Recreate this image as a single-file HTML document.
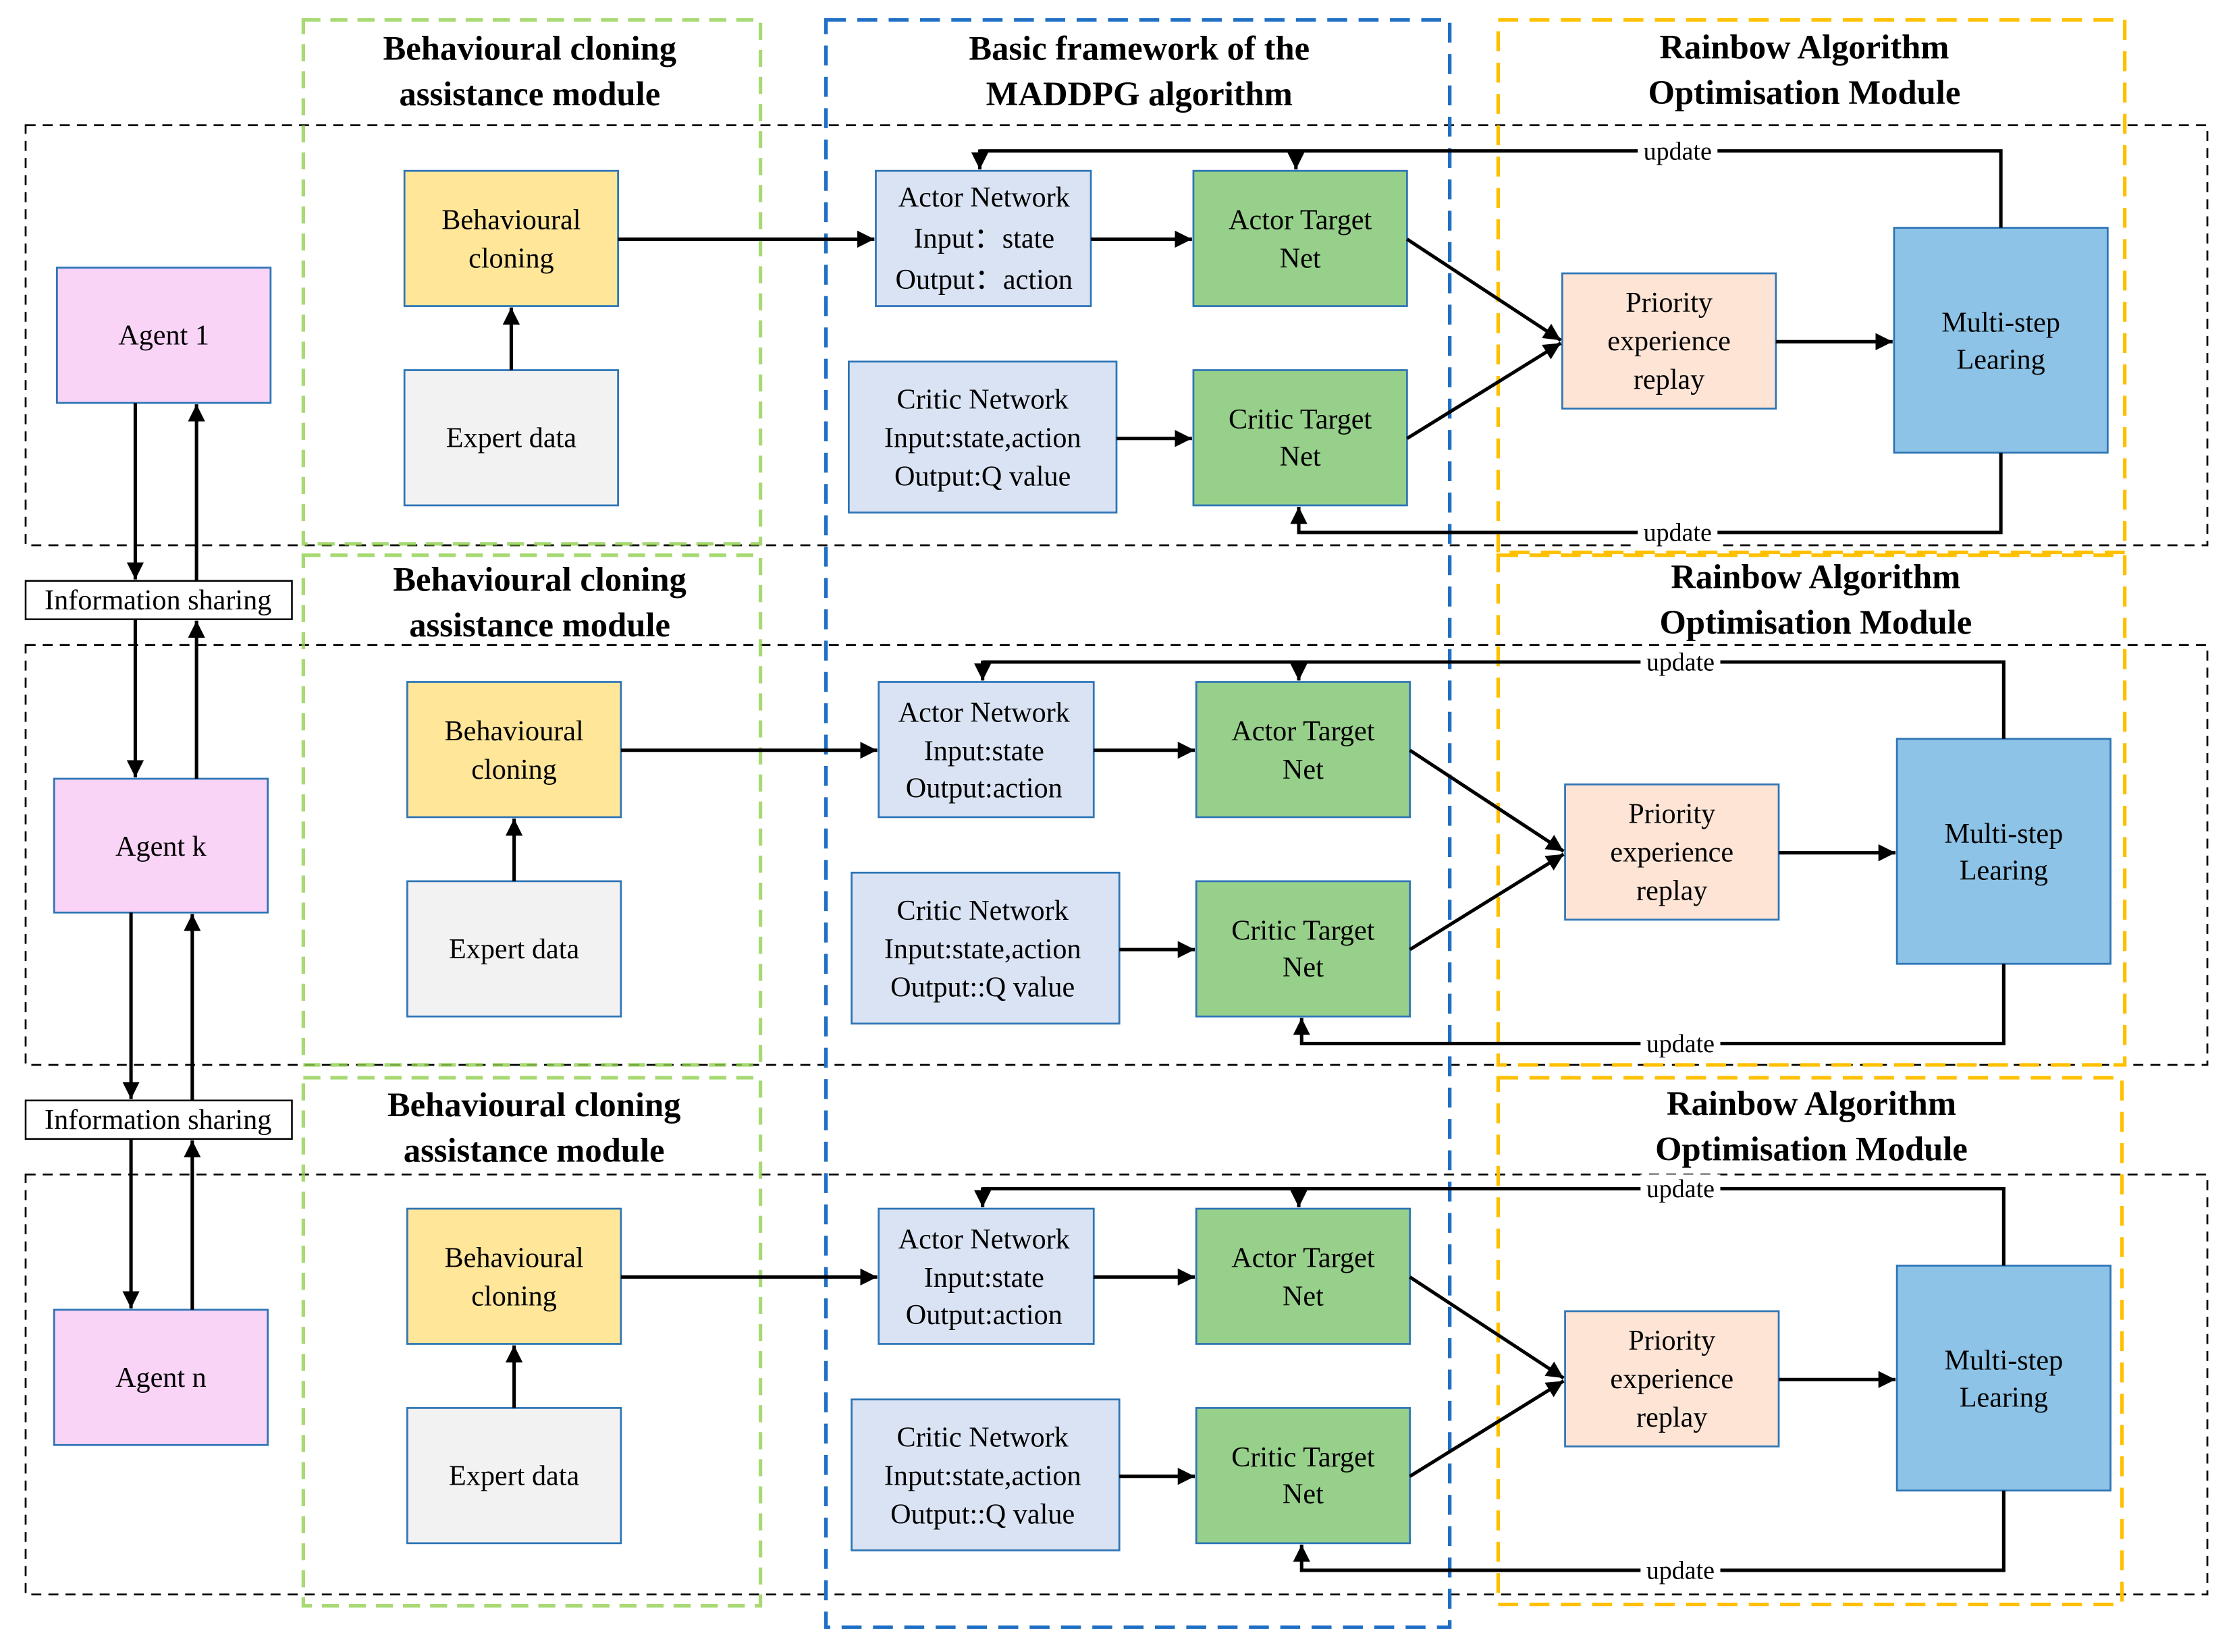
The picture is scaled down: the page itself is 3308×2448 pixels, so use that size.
<!DOCTYPE html>
<html><head><meta charset="utf-8"><style>
html,body{margin:0;padding:0;background:#fff}
svg{display:block}
text{font-family:"Liberation Serif",serif;fill:#000}
.t{font-size:20px;text-anchor:middle}
.h{font-size:24px;font-weight:bold;text-anchor:middle}
.n{stroke:#2e75b6;stroke-width:1.3}
.a{stroke:#000;stroke-width:2.4;fill:none;marker-end:url(#ar)}
.l{stroke:#000;stroke-width:2.4;fill:none}
</style></head><body>
<svg width="3308" height="2448" viewBox="0 0 1568 1160.4" preserveAspectRatio="none" xmlns="http://www.w3.org/2000/svg">
<defs>
<marker id="ar" viewBox="0 0 10 10" refX="10" refY="5" markerWidth="5" markerHeight="5" orient="auto-start-reverse" markerUnits="strokeWidth"><path d="M0,0L10,5L0,10z" fill="#000"/></marker>
<g id="row">
<rect class="n" x="284" y="120" width="150" height="95" fill="#ffe699"/>
<text class="t" x="359" y="161">Behavioural</text><text class="t" x="359" y="188">cloning</text>
<rect class="n" x="284" y="260" width="150" height="95" fill="#f2f2f2"/>
<text class="t" x="359" y="314">Expert data</text>
<rect class="n" x="615" y="120" width="151" height="95" fill="#dae3f3"/>
<rect class="n" x="596" y="254" width="188" height="106" fill="#dae3f3"/>
<rect class="n" x="838" y="120" width="150" height="95" fill="#97d08a"/>
<text class="t" x="913" y="161">Actor Target</text><text class="t" x="913" y="188">Net</text>
<rect class="n" x="838" y="260" width="150" height="95" fill="#97d08a"/>
<text class="t" x="913" y="301">Critic Target</text><text class="t" x="913" y="327">Net</text>
<rect class="n" x="1097" y="192" width="150" height="95" fill="#fde4d5"/>
<text class="t" x="1172" y="219">Priority</text><text class="t" x="1172" y="246">experience</text><text class="t" x="1172" y="273">replay</text>
<rect class="n" x="1330" y="160" width="150" height="158" fill="#8dc3e6"/>
<text class="t" x="1405" y="233">Multi-step</text><text class="t" x="1405" y="259">Learing</text>
<line class="a" x1="359" y1="260" x2="359" y2="216"/>
<line class="a" x1="434" y1="168" x2="614" y2="168"/>
<line class="a" x1="766" y1="168" x2="837" y2="168"/>
<line class="a" x1="784" y1="308" x2="837" y2="308"/>
<line class="a" x1="988" y1="168" x2="1096" y2="239"/>
<line class="a" x1="988" y1="308" x2="1096" y2="241"/>
<line class="a" x1="1247" y1="240" x2="1329" y2="240"/>
<polyline class="l" points="1405,160 1405,106 688,106"/>
<line class="a" x1="688" y1="105" x2="688" y2="119"/>
<line class="a" x1="910" y1="105" x2="910" y2="119"/>
<polyline class="a" points="1405,318 1405,374 912,374 912,356"/>
<rect x="1150" y="96" width="56" height="20" fill="#fff"/><text x="1178" y="112" style="font-size:18px;text-anchor:middle">update</text>
<rect x="1150" y="364" width="56" height="20" fill="#fff"/><text x="1178" y="380" style="font-size:18px;text-anchor:middle">update</text>
</g>
</defs>
<g fill="none" stroke="#000" stroke-width="1.3" stroke-dasharray="7,5">
<rect x="18" y="88" width="1532" height="295"/>
<rect x="18" y="453" width="1532" height="295"/>
<rect x="18" y="825" width="1532" height="295"/>
</g>
<g fill="none" stroke="#92d050" stroke-width="2.5" stroke-dasharray="12,7" opacity="0.8">
<rect x="213" y="14" width="321" height="368"/>
<rect x="213" y="390" width="321" height="358"/>
<rect x="213" y="757" width="321" height="371"/>
</g>
<rect x="580" y="14" width="438" height="1129" fill="none" stroke="#1f6fc5" stroke-width="2.5" stroke-dasharray="14,8"/>
<g fill="none" stroke="#ffc000" stroke-width="2.5" stroke-dasharray="14,8">
<rect x="1052" y="14" width="440" height="374"/>
<rect x="1052" y="390" width="440" height="358"/>
<rect x="1052" y="757" width="438" height="370"/>
</g>
<text class="h" x="372" y="42">Behavioural cloning</text><text class="h" x="372" y="74">assistance module</text>
<text class="h" x="379" y="415">Behavioural cloning</text><text class="h" x="379" y="447">assistance module</text>
<text class="h" x="375" y="784">Behavioural cloning</text><text class="h" x="375" y="816">assistance module</text>
<text class="h" x="800" y="42">Basic framework of the</text><text class="h" x="800" y="74">MADDPG algorithm</text>
<text class="h" x="1267" y="41">Rainbow Algorithm</text><text class="h" x="1267" y="73">Optimisation Module</text>
<text class="h" x="1275" y="413">Rainbow Algorithm</text><text class="h" x="1275" y="445">Optimisation Module</text>
<text class="h" x="1272" y="783">Rainbow Algorithm</text><text class="h" x="1272" y="815">Optimisation Module</text>

<use href="#row"/>
<use href="#row" transform="translate(2,359)"/>
<use href="#row" transform="translate(2,729)"/>

<g>
<text class="t" x="691" y="145">Actor Network</text><text class="t" x="691" y="174">Input：state</text><text class="t" x="691" y="203">Output：action</text>
<text class="t" x="690" y="287">Critic Network</text><text class="t" x="690" y="314">Input:state,action</text><text class="t" x="690" y="341">Output:Q value</text>
<text class="t" x="691" y="507">Actor Network</text><text class="t" x="691" y="534">Input:state</text><text class="t" x="691" y="560">Output:action</text>
<text class="t" x="690" y="646">Critic Network</text><text class="t" x="690" y="673">Input:state,action</text><text class="t" x="690" y="700">Output::Q value</text>
<text class="t" x="691" y="877">Actor Network</text><text class="t" x="691" y="904">Input:state</text><text class="t" x="691" y="930">Output:action</text>
<text class="t" x="690" y="1016">Critic Network</text><text class="t" x="690" y="1043">Input:state,action</text><text class="t" x="690" y="1070">Output::Q value</text>
</g>

<rect class="n" x="40" y="188" width="150" height="95" fill="#f9d4f7"/><text class="t" x="115" y="242">Agent 1</text>
<rect class="n" x="38" y="547" width="150" height="94" fill="#f9d4f7"/><text class="t" x="113" y="601">Agent k</text>
<rect class="n" x="38" y="920" width="150" height="95" fill="#f9d4f7"/><text class="t" x="113" y="974">Agent n</text>
<rect x="18" y="408" width="187" height="27" fill="#fff" stroke="#000" stroke-width="1.2"/><text class="t" x="111" y="428">Information sharing</text>
<rect x="18" y="773" width="187" height="27" fill="#fff" stroke="#000" stroke-width="1.2"/><text class="t" x="111" y="793">Information sharing</text>
<line class="a" x1="95" y1="283" x2="95" y2="407"/>
<line class="a" x1="95" y1="435" x2="95" y2="546"/>
<line class="a" x1="138" y1="408" x2="138" y2="284"/>
<line class="a" x1="138" y1="547" x2="138" y2="436"/>
<line class="a" x1="92" y1="641" x2="92" y2="772"/>
<line class="a" x1="92" y1="800" x2="92" y2="919"/>
<line class="a" x1="135" y1="773" x2="135" y2="642"/>
<line class="a" x1="135" y1="920" x2="135" y2="801"/>
</svg>
</body></html>
